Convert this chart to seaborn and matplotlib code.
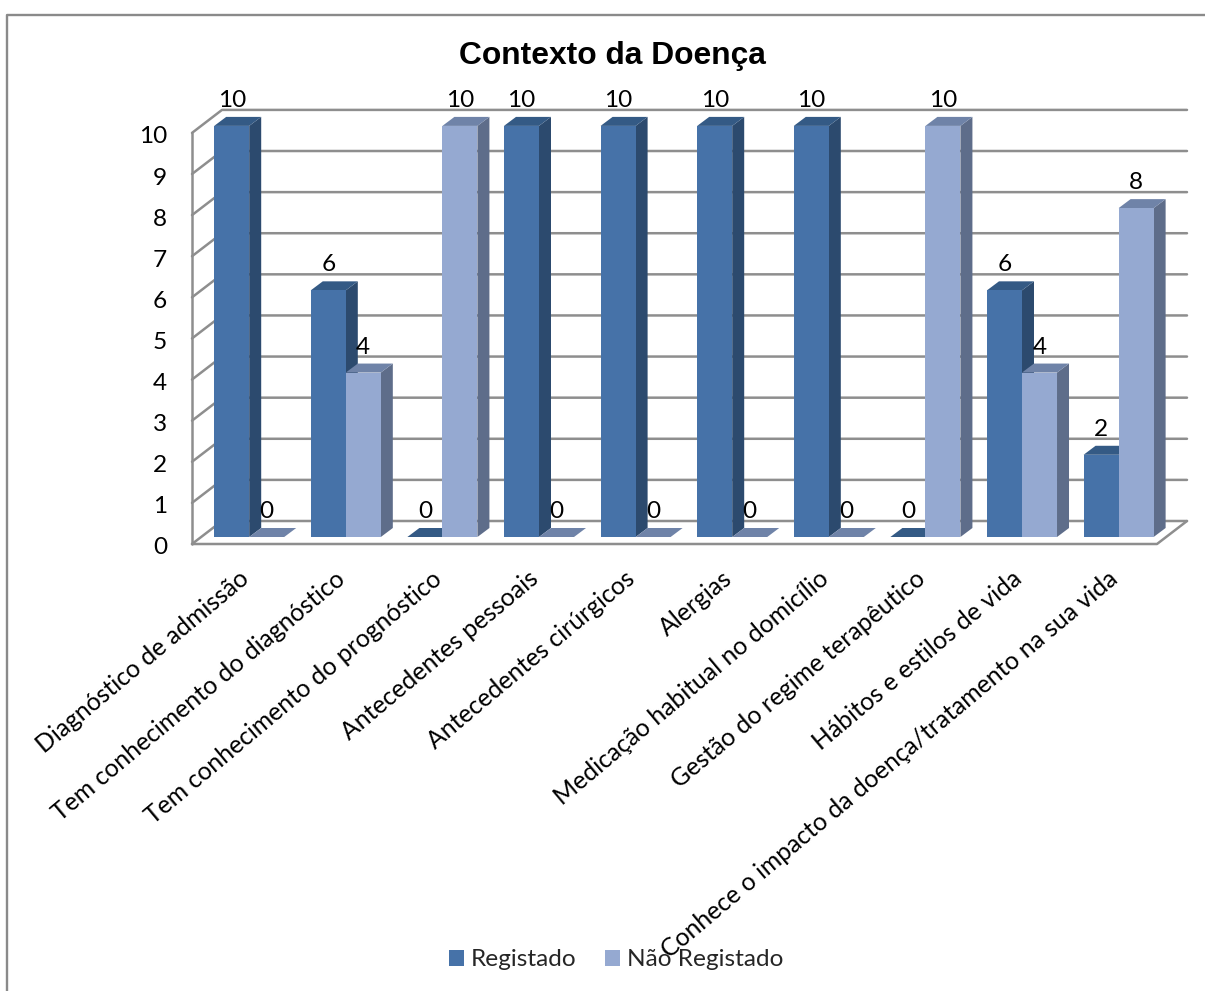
import matplotlib
matplotlib.use("Agg")
import matplotlib.pyplot as plt
from matplotlib.patches import Polygon, Rectangle
from matplotlib.transforms import Affine2D
import pandas as pd
import seaborn as sns

categories = ["Diagnóstico de admissão", "Tem conhecimento do diagnóstico",
              "Tem conhecimento do prognóstico", "Antecedentes pessoais",
              "Antecedentes cirúrgicos", "Alergias",
              "Medicação habitual no domicílio", "Gestão do regime terapêutico",
              "Hábitos e estilos de vida",
              "Conhece o impacto da doença/tratamento na sua vida"]
registado = [10, 6, 0, 10, 10, 10, 10, 0, 6, 2]
nao_registado = [0, 4, 10, 0, 0, 0, 0, 10, 4, 8]
series_names = ["Registado", "Não Registado"]
title = "Contexto da Doença"

FRONT = ["#4672A8", "#95A9D1"]
SIDE = ["#2C4A6E", "#5E6D8A"]
TOP = ["#345A85", "#6F83A8"]
GRID = "#8E8E8E"
W, H = 1205, 991
FONT = "Lato"
FS = 17.6

sns.set_theme(style="white")
plt.rcParams["font.family"] = FONT

df = pd.DataFrame({
    "cat": categories * 2,
    "val": registado + nao_registado,
    "serie": [series_names[0]] * 10 + [series_names[1]] * 10,
})

fig = plt.figure(figsize=(W / 100, H / 100), dpi=100, facecolor="white")
# axes box: front plane of the bars
L, R, T, B = 200.9, 1166.9, 125.9, 537.0
ax = fig.add_axes([L / W, 1 - B / H, (R - L) / W, (B - T) / H])
sns.barplot(data=df, x="cat", y="val", hue="serie", palette=FRONT, width=0.725,
            dodge=True, gap=0, saturation=1, ax=ax, legend=False, zorder=5)
ax.set_xlim(-0.5, 9.5)
ax.set_ylim(0, 10)
ax.set_yticks(range(11))
ax.set_xlabel("")
ax.set_ylabel("")
for s in ax.spines.values():
    s.set_visible(False)
ax.patch.set_alpha(0)

ux = 1 / 96.6   # data units per pixel
uy = 10 / (B - T)

# frame of the picture
fig.add_artist(plt.Line2D([7.5 / W, 7.5 / W, 1], [0, 1 - 14.5 / H, 1 - 14.5 / H],
                          color="#8A8A8A", lw=1.7, transform=fig.transFigure))

# walls
lw = 1.8
kw = dict(color=GRID, lw=lw, clip_on=False, zorder=1, solid_capstyle="round")
x_fl = -0.5 - 8.9 * ux          # front-left corner
x_bl = x_fl + 30 * ux           # back-left
x_fr = 9.5 - 9.9 * ux           # front-right
x_br = x_fr + 30 * ux
y_f = -7 * uy                   # shift of front plane of the floor
y_b = 16 * uy                   # shift of back plane
for v in range(11):
    ax.plot([x_fl, x_bl, x_br], [v + y_f, v + y_b, v + y_b], **kw)
ax.plot([x_fl, x_fl], [y_f, 10 + y_f], **kw)
ax.plot([x_fl, x_fr, x_br], [y_f, y_f, y_b], **kw)

# 3D sides of bars
dx = 12 * ux
dy = 9 * uy
n = len(categories)
for si, cont in enumerate(ax.containers):
    for bar in cont:
        x0, w, h = bar.get_x(), bar.get_width(), bar.get_height()
        x1 = x0 + w
        z = 4 + si
        ax.add_patch(Polygon([(x1, 0), (x1 + dx, dy), (x1 + dx, h + dy), (x1, h)],
                             fc=SIDE[si], ec="none", clip_on=False, zorder=z))
        ax.add_patch(Polygon([(x0, h), (x1, h), (x1 + dx, h + dy), (x0 + dx, h + dy)],
                             fc=TOP[si], ec="none", clip_on=False, zorder=z))
        bar.set_zorder(z + 0.5)
        bar.set_edgecolor("none")
        bar.set_clip_on(False)
        ax.annotate(f"{int(h)}", (x0 + w / 2, h), xytext=(0, 18.3), textcoords="offset points",
                    ha="center", va="center", fontsize=FS, color="black", zorder=20,
                    annotation_clip=False)

# ticks
ax.tick_params(axis="both", length=0, labelcolor="black")
ax.tick_params(axis="y", labelsize=FS, pad=0)
for lab in ax.get_yticklabels():
    lab.set_transform(lab.get_transform() + Affine2D().translate(-34, -9))
ax.set_xticks(range(n))
ax.set_xticklabels(categories, rotation=40, ha="right", va="top",
                   rotation_mode="anchor", fontsize=17.85)
for lab in ax.get_xticklabels():
    lab.set_transform(lab.get_transform() + Affine2D().translate(-11, -25))

fig.text(612 / W, 1 - 56 / H, title, ha="center", va="center", fontsize=22.9,
         fontweight="bold", family="Liberation Sans", color="black")

# legend
handles = [Rectangle((0, 0), 1, 1, fc=c, ec="none") for c in FRONT]
fig.legend(handles, series_names, loc="center", bbox_to_anchor=(616 / W, 1 - 960 / H),
           ncol=2, frameon=False, fontsize=FS, handlelength=0.61, handleheight=0.61,
           handletextpad=0.28, columnspacing=1.17, borderpad=0, borderaxespad=0)

fig.savefig("out.png", dpi=100, facecolor="white")
